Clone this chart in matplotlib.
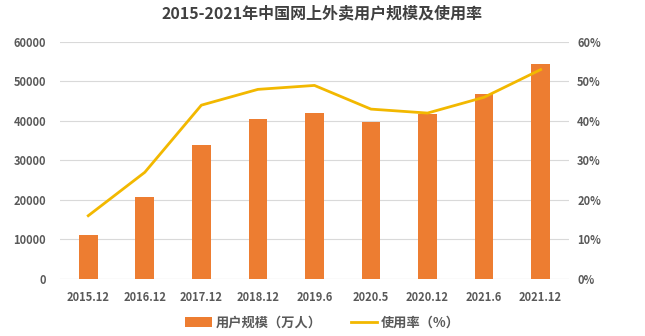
import matplotlib
matplotlib.use("Agg")
import matplotlib.pyplot as plt
from matplotlib.ticker import FuncFormatter

plt.rcParams['font.family'] = ['Noto Sans CJK SC', 'DejaVu Sans']

# data
periods = ['2015.12', '2016.12', '2017.12', '2018.12', '2019.6',
           '2020.5', '2020.12', '2021.6', '2021.12']
users = [11000, 20856, 34000, 40601, 42118, 39780, 41883, 46859, 54416]  # 万人
rate = [16.0, 27.0, 44.0, 48.0, 49.0, 43.0, 42.0, 46.0, 53.0]  # %

bar_color = '#ED7D31'
line_color = '#F2B800'
text_color = '#595959'

fig = plt.figure(figsize=(6.45, 3.36), dpi=100, facecolor='white')
ax = fig.add_axes([0.093, 0.170, 0.789, 0.705])
ax2 = ax.twinx()

x = range(len(periods))
bars = ax.bar(x, users, width=0.33, color=bar_color, zorder=2, label='用户规模（万人）')
line, = ax2.plot(x, rate, color=line_color, lw=2, zorder=3, label='使用率（%）')

ax.set_xlim(-0.5, len(periods) - 0.5)
ax.set_ylim(0, 60000)
ax.set_yticks(range(0, 60001, 10000))
ax2.set_ylim(0, 60)
ax2.set_yticks(range(0, 61, 10))
ax2.yaxis.set_major_formatter(FuncFormatter(lambda v, p: f'{int(v)}%'))

ax.set_xticks(list(x))
ax.set_xticklabels(periods)

ax.grid(axis='y', color='#D9D9D9', lw=0.8, zorder=0)
for a in (ax, ax2):
    for s in a.spines.values():
        s.set_visible(False)
    a.tick_params(length=0, labelsize=8, labelcolor=text_color)
    for lab in a.get_xticklabels() + a.get_yticklabels():
        lab.set_fontweight('bold')
ax.axhline(0, color='#D9D9D9', lw=0.8, zorder=1)
ax.tick_params(axis='x', pad=9)
ax.tick_params(axis='y', pad=10)
ax2.tick_params(axis='y', pad=6)

fig.suptitle('2015-2021年中国网上外卖用户规模及使用率', x=0.5, y=0.985,
             fontsize=11.5, fontweight='bold', color='#404040')

fig.legend([bars, line], ['用户规模（万人）', '使用率（%）'], loc='center',
           bbox_to_anchor=(0.5, 0.04), ncol=2, frameon=False,
           prop={'size': 9.5, 'weight': 'bold'}, labelcolor=text_color,
           handlelength=2.0, handletextpad=0.3, columnspacing=2.2)

fig.savefig('out.png', dpi=100, facecolor='white')
